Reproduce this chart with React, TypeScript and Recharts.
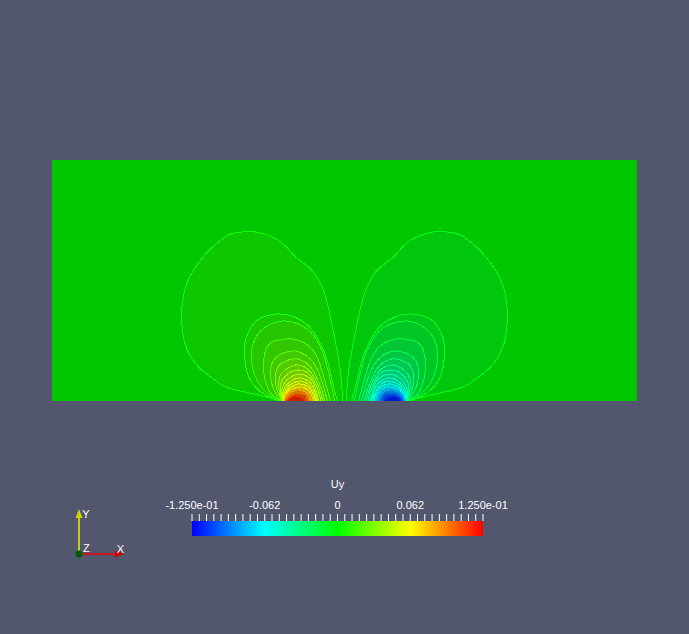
import React from 'react';
import {
  ComposedChart,
  BarChart,
  Area,
  Bar,
  Line,
  Scatter,
  XAxis,
  YAxis,
  CartesianGrid
} from 'recharts';

type Pt = [number, number];

// colour legend range and labels
const uyMin = -0.125;
const uyMax = 0.125;
const legendTicks = [-0.125, -0.0625, 0, 0.0625, 0.125];
const legendLabels = ['-1.250e-01', '-0.062', '0', '0.062', '1.250e-01'];
const legendMinorTicks = Array.from({ length: 41 }, (_, i) => uyMin + i * 0.00625);
const legendBar = [{ name: 'Uy', range: [uyMin, uyMax] }];

// contour values, positive lobe (left) and negative lobe (right), outer to inner
const posLevels = [0.004, 0.008, 0.012, 0.016, 0.021, 0.026, 0.031, 0.036, 0.041, 0.046, 0.051, 0.057, 0.07, 0.085, 0.1, 0.115];
const negLevels = [-0.004, -0.008, -0.012, -0.016, -0.021, -0.026, -0.031, -0.036, -0.041, -0.046, -0.051, -0.057, -0.07, -0.085, -0.1, -0.115];

// contour loops of the left lobe, [x, y] (x -292..292, y 0..241)
const loopA: Pt[] = [[-65, 0], [-86, 6], [-116, 13], [-130, 21], [-143, 31], [-153, 43], [-160, 59], [-163, 83], [-162, 99], [-159, 114], [-151, 131], [-137, 149], [-126, 159], [-114, 167], [-102, 169], [-89, 169], [-70, 163], [-57, 153], [-49, 144], [-36, 134], [-29, 126], [-22, 113], [-16, 93], [-11, 69], [-6, 43], [-3, 19], [-2, 0]];
const loopB: Pt[] = [[-64, 0], [-78, 5], [-93, 19], [-99, 36], [-100, 56], [-96, 69], [-87, 81], [-67, 87], [-50, 84], [-37, 76], [-27, 63], [-18, 43], [-12, 19], [-7, 0]];
const loopC: Pt[] = [[-63, 0], [-74, 5], [-86, 18], [-92, 34], [-93, 50], [-89, 63], [-79, 74], [-62, 80], [-46, 77], [-34, 69], [-25, 56], [-19, 40], [-14, 20], [-10, 0]];
const loopD: Pt[] = [[-62.5, 0], [-71, 5], [-78, 16], [-81, 36], [-78, 53], [-70, 60], [-53, 62], [-37, 56], [-27, 43], [-21, 25], [-17, 11], [-14, 0]];
const loopE: Pt[] = [[-62, 0], [-68, 6], [-73, 18], [-74, 31], [-70, 42], [-61, 48], [-50, 50], [-39, 46], [-30, 37], [-24, 24], [-20, 11], [-17, 0]];
const loopF: Pt[] = [[-62, 0], [-66, 7], [-69, 17], [-69, 27], [-65, 36], [-56, 41], [-47, 42], [-38, 38], [-31, 30], [-26, 19], [-22, 9], [-20, 0]];
const loopG: Pt[] = [[-62, 0], [-65, 8], [-66, 17], [-64, 26], [-58, 32], [-49, 36], [-40, 34], [-33, 28], [-28, 19], [-24, 9], [-22, 0]];
const loopH: Pt[] = [[-62, 0], [-64, 8], [-64, 16], [-61, 23], [-54, 29], [-46, 31], [-38, 29], [-32, 23], [-28, 15], [-25, 7], [-24, 0]];
const loopI: Pt[] = [[-62, 0], [-63, 7], [-62, 14], [-58, 21], [-52, 25], [-45, 27], [-38, 25], [-32, 20], [-29, 13], [-27, 6], [-26, 0]];
const loopJ: Pt[] = [[-61, 0], [-62, 6], [-60, 13], [-56, 18], [-50, 22], [-44, 23], [-38, 21], [-33, 17], [-30, 11], [-28, 5], [-27, 0]];
const loopK: Pt[] = [[-61, 0], [-61, 6], [-59, 11], [-55, 16], [-49, 19], [-44, 20], [-38, 18], [-34, 14], [-31, 9], [-29, 4], [-28, 0]];
const loopL: Pt[] = [[-61, 0], [-60, 6], [-57, 11], [-52, 15], [-46, 17], [-40, 16], [-35, 13], [-32, 8], [-30, 4], [-29, 0]];
const hot1: Pt[] = [[-61, 0], [-60, 5], [-56, 10], [-50, 13], [-44, 14], [-38, 12], [-34, 8], [-32, 4], [-31, 0]];
const hot2: Pt[] = [[-60, 0], [-58, 5], [-53, 9], [-47, 11], [-41, 10], [-37, 7], [-35, 3], [-34, 0]];
const hot3: Pt[] = [[-59, 0], [-56, 4], [-51, 7], [-46, 8], [-41, 7], [-38, 4], [-37, 0]];
const hot4: Pt[] = [[-57, 0], [-54, 3], [-49, 5], [-44, 4], [-41, 2], [-40, 0]];

const leftLoops = [loopA, loopB, loopC, loopD, loopE, loopF, loopG, loopH, loopI, loopJ, loopK, loopL, hot1, hot2, hot3, hot4];

// orientation triad, unit axes
const triadY = [{ x: 0, y: 0 }, { x: 0, y: 0.82 }];
const triadX = [{ x: 0, y: 0 }, { x: 0.8, y: 0 }];
const triadCones = [{ x: 0, y: 0.82, dir: 'up' }, { x: 0.8, y: 0, dir: 'right' }];
const triadOrigin = [{ x: 0, y: 0 }];
const triadLabels = [{ x: 0.07, y: 0.82, name: 'Y' }, { x: 0.09, y: 0.04, name: 'Z' }, { x: 0.84, y: 0.02, name: 'X' }];

const BG = '#52576e';
const FONT = '"Liberation Sans", Arial, sans-serif';

// blue-cyan-green-yellow-red map
const rainbow = (v: number) => {
  const t = Math.min(1, Math.max(0, (v - uyMin) / (uyMax - uyMin)));
  if (t < 0.25) return [0, t / 0.25, 1];
  if (t < 0.5) return [0, 1, 1 - (t - 0.25) / 0.25];
  if (t < 0.75) return [(t - 0.5) / 0.25, 1, 0];
  return [1, 1 - (t - 0.75) / 0.25, 0];
};
const rgb = (v: number, k: number) => {
  const [r, g, b] = rainbow(v);
  return `rgb(${Math.round(r * 255 * k)},${Math.round(g * 255 * k)},${Math.round(b * 255 * k)})`;
};
const LIT = 0.78;

const contours = [
  ...leftLoops.map((loop, i) => ({
    key: `p${i}`,
    level: posLevels[i],
    points: loop.map(([x, y]) => ({ x, y }))
  })),
  ...leftLoops.map((loop, i) => ({
    key: `n${i}`,
    level: negLevels[i],
    points: loop.map(([x, y]) => ({ x: -x, y }))
  }))
];

const Cone = (props: any) => {
  const { cx, cy, payload } = props;
  if (payload && payload.dir === 'up') {
    return <polygon points={`${cx - 3.5},${cy} ${cx + 3.5},${cy} ${cx},${cy - 9}`} fill="#d2d200" />;
  }
  return <polygon points={`${cx},${cy - 3.5} ${cx},${cy + 3.5} ${cx + 9},${cy}`} fill="#d20000" />;
};

const OriginDot = (props: any) => <circle cx={props.cx} cy={props.cy} r={3.5} fill="#005a00" />;

const TriadLabel = (props: any) => (
  <text x={props.cx} y={props.cy} fill="#ffffff" fontSize={11} fontFamily={FONT}>
    {props.payload.name}
  </text>
);

const legendTick = (v: number) => {
  const i = legendTicks.findIndex(t => Math.abs(t - v) < 1e-9);
  return i >= 0 ? legendLabels[i] : '';
};

const App: React.FC = () => {
  return (
    <div style={{ position: 'fixed', left: 0, top: 0, width: 689, height: 634, background: BG, fontFamily: FONT, overflow: 'hidden' }}>
      <div style={{ position: 'absolute', left: 0, top: 0 }}>
        <ComposedChart width={689} height={634} margin={{ top: 160, right: 52, bottom: 233, left: 52 }}>
          <CartesianGrid horizontal={false} vertical={false} fill={rgb(0, LIT)} stroke="none" />
          <XAxis type="number" dataKey="x" domain={[-292.5, 292.5]} hide allowDataOverflow />
          <YAxis type="number" dataKey="y" domain={[0, 241]} hide allowDataOverflow />
          {contours.map(c => (
            <Area
              key={c.key}
              data={c.points}
              dataKey="y"
              type="natural"
              stroke={rgb(c.level, 1)}
              strokeWidth={1}
              fill={rgb(c.level, LIT)}
              fillOpacity={1}
              shapeRendering="crispEdges"
              dot={false}
              activeDot={false}
              isAnimationActive={false}
            />
          ))}
        </ComposedChart>
      </div>

      <div style={{ position: 'absolute', left: 140, top: 470 }}>
        <BarChart
          width={400}
          height={70}
          layout="vertical"
          data={legendBar}
          margin={{ top: 23, right: 57, bottom: 4, left: 52 }}
          barCategoryGap={0}
        >
          <defs>
            <linearGradient id="uyMap" x1="0" y1="0" x2="1" y2="0">
              <stop offset="0" stopColor="#0000ff" />
              <stop offset="0.25" stopColor="#00ffff" />
              <stop offset="0.5" stopColor="#00ff00" />
              <stop offset="0.75" stopColor="#ffff00" />
              <stop offset="1" stopColor="#ff0000" />
            </linearGradient>
          </defs>
          <XAxis
            type="number"
            orientation="top"
            domain={[uyMin, uyMax]}
            ticks={legendMinorTicks}
            interval={0}
            tickFormatter={legendTick}
            tickSize={7}
            tickMargin={5}
            height={28}
            axisLine={false}
            tickLine={{ stroke: '#ffffff' }}
            tick={{ fill: '#ffffff', fontSize: 11 }}
            label={{ value: 'Uy', position: 'top', offset: 5, fill: '#ffffff', fontSize: 11 }}
            allowDataOverflow
          />
          <YAxis type="category" dataKey="name" hide />
          <Bar dataKey="range" fill="url(#uyMap)" isAnimationActive={false} />
        </BarChart>
      </div>

      <div style={{ position: 'absolute', left: 60, top: 500 }}>
        <ComposedChart width={80} height={72} margin={{ top: 1.2, right: 7, bottom: 4.8, left: 5.5 }}>
          <XAxis type="number" dataKey="x" domain={[-0.3, 1.2]} hide />
          <YAxis type="number" dataKey="y" domain={[-0.3, 1.2]} hide />
          <Line data={triadY} dataKey="y" type="linear" stroke="#f0f000" strokeWidth={1.5} dot={false} activeDot={false} isAnimationActive={false} />
          <Line data={triadX} dataKey="y" type="linear" stroke="#f00000" strokeWidth={1.5} dot={false} activeDot={false} isAnimationActive={false} />
          <Scatter data={triadCones} shape={Cone} isAnimationActive={false} />
          <Scatter data={triadOrigin} shape={OriginDot} isAnimationActive={false} />
          <Scatter data={triadLabels} shape={TriadLabel} isAnimationActive={false} />
        </ComposedChart>
      </div>
    </div>
  );
};

export default App;
